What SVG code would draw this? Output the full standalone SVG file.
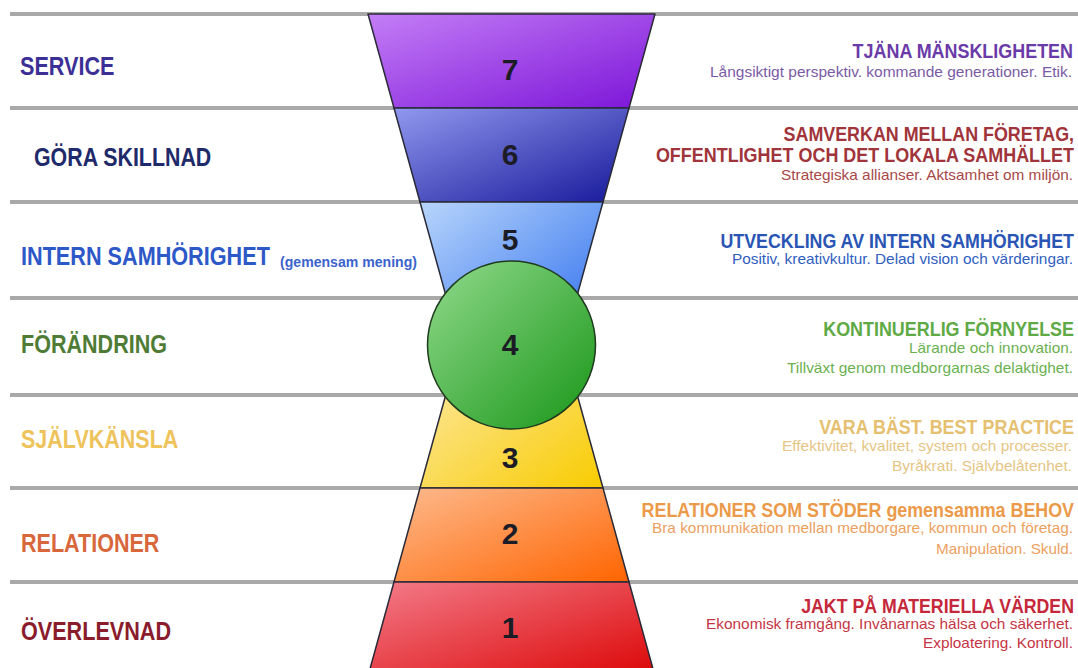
<svg xmlns="http://www.w3.org/2000/svg" width="1078" height="668" viewBox="0 0 1078 668">
<style>
.sep{stroke:#a9a9a9;stroke-width:4;fill:none}
.band{stroke:#2a2a38;stroke-width:1.5;stroke-linejoin:round}
.num{font-family:"Liberation Sans",Arial,sans-serif;font-weight:bold;font-size:30px;fill:#1c1c26;text-anchor:middle}
.lbl{font-family:"Liberation Sans",Arial,sans-serif;font-weight:bold;font-size:25px}
.hd{font-family:"Liberation Sans",Arial,sans-serif;font-weight:bold;font-size:19.5px;text-anchor:end}
.sm{font-family:"Liberation Sans",Arial,sans-serif;font-size:14.8px;text-anchor:end}
</style>
<defs>
<linearGradient id="g7" x1="0" y1="0" x2="1" y2="1"><stop offset="0" stop-color="#c47ef6"/><stop offset="1" stop-color="#7c14d8"/></linearGradient>
<linearGradient id="g6" x1="0" y1="0" x2="1" y2="1"><stop offset="0" stop-color="#9098ee"/><stop offset="1" stop-color="#16189a"/></linearGradient>
<linearGradient id="g5" x1="0" y1="0" x2="1" y2="1"><stop offset="0" stop-color="#b8d5fb"/><stop offset="1" stop-color="#2a6cee"/></linearGradient>
<linearGradient id="g4" x1="0" y1="0" x2="1" y2="1"><stop offset="0" stop-color="#92da8c"/><stop offset="1" stop-color="#189618"/></linearGradient>
<linearGradient id="g3" x1="0" y1="0" x2="1" y2="1"><stop offset="0" stop-color="#fdeab0"/><stop offset="1" stop-color="#f8cc00"/></linearGradient>
<linearGradient id="g2" x1="0" y1="0" x2="1" y2="1"><stop offset="0" stop-color="#fdba8e"/><stop offset="1" stop-color="#ff6400"/></linearGradient>
<linearGradient id="g1" x1="0" y1="0" x2="1" y2="1"><stop offset="0" stop-color="#f37c8a"/><stop offset="1" stop-color="#dc0606"/></linearGradient>
</defs>
<rect width="1078" height="668" fill="#ffffff"/>
<g id="connectors">
<line class="sep" x1="10" y1="14" x2="1078" y2="14"/>
<line class="sep" x1="10" y1="108" x2="1078" y2="108"/>
<line class="sep" x1="10" y1="202" x2="1078" y2="202"/>
<line class="sep" x1="10" y1="298" x2="1078" y2="298"/>
<line class="sep" x1="10" y1="395" x2="1078" y2="395"/>
<line class="sep" x1="10" y1="488" x2="1078" y2="488"/>
<line class="sep" x1="10" y1="582" x2="1078" y2="582"/>
</g>
<g id="level-7">
<polygon class="band" fill="url(#g7)" points="368,14 655,14 629,108 394,108"/>
<text class="num" x="510" y="80">7</text>
<text class="lbl" transform="translate(20,75) scale(0.865,1)" fill="#3c3096">SERVICE</text>
<text class="hd" transform="translate(1073,58) scale(0.92,1)" fill="#6a3aa8">TJÄNA MÄNSKLIGHETEN</text>
<text class="sm" x="1072" y="77" fill="#7b5aa6" textLength="362" lengthAdjust="spacingAndGlyphs">Långsiktigt perspektiv. kommande generationer. Etik.</text>
</g>
<g id="level-6">
<polygon class="band" fill="url(#g6)" points="394,108 629,108 603,202 420,202"/>
<text class="num" x="510" y="165">6</text>
<text class="lbl" transform="translate(34,166) scale(0.855,1)" fill="#1e2a6a">GÖRA SKILLNAD</text>
<text class="hd" transform="translate(1074,141) scale(0.917,1)" fill="#a0343a">SAMVERKAN MELLAN FÖRETAG,</text>
<text class="hd" transform="translate(1074,162) scale(0.921,1)" fill="#a0343a">OFFENTLIGHET OCH DET LOKALA SAMHÄLLET</text>
<text class="sm" x="1073" y="180" fill="#a84848" textLength="292" lengthAdjust="spacingAndGlyphs">Strategiska allianser. Aktsamhet om miljön.</text>
</g>
<g id="level-5">
<polygon class="band" fill="url(#g5)" points="420,202 603,202 563.4,345 459.6,345"/>
<text class="num" x="510" y="250">5</text>
<text class="lbl" transform="translate(21,265) scale(0.866,1)" fill="#2d58c8">INTERN SAMHÖRIGHET</text>
<text transform="translate(280,267) scale(0.94,1)" fill="#3b63cc" font-family="Liberation Sans, Arial, sans-serif" font-weight="bold" font-size="15">(gemensam mening)</text>
<text class="hd" transform="translate(1074,248) scale(0.915,1)" fill="#2a55b5">UTVECKLING AV INTERN SAMHÖRIGHET</text>
<text class="sm" x="1073" y="264" fill="#3060c0" textLength="341" lengthAdjust="spacingAndGlyphs">Positiv, kreativkultur. Delad vision och värderingar.</text>
</g>
<g id="level-3">
<polygon class="band" fill="url(#g3)" points="459.6,345 563.4,345 603,488 420,488"/>
<text class="num" x="510" y="468">3</text>
<text class="lbl" transform="translate(21,448) scale(0.861,1)" fill="#eec35c">SJÄLVKÄNSLA</text>
<text class="hd" transform="translate(1074,434) scale(0.919,1)" fill="#e5c070">VARA BÄST. BEST PRACTICE</text>
<text class="sm" x="1072" y="451" fill="#e5c585" textLength="290" lengthAdjust="spacingAndGlyphs">Effektivitet, kvalitet, system och processer.</text>
<text class="sm" x="1072" y="471" fill="#e5c585" textLength="180" lengthAdjust="spacingAndGlyphs">Byråkrati. Självbelåtenhet.</text>
</g>
<g id="level-4">
<circle cx="511.5" cy="345" r="84" fill="url(#g4)" stroke="#1f3a1f" stroke-width="1.5"/>
<text class="num" x="510" y="355">4</text>
<text class="lbl" transform="translate(21,353) scale(0.862,1)" fill="#4e7c35">FÖRÄNDRING</text>
<text class="hd" transform="translate(1074,336) scale(0.919,1)" fill="#5faa45">KONTINUERLIG FÖRNYELSE</text>
<text class="sm" x="1073" y="353" fill="#6ab050" textLength="164" lengthAdjust="spacingAndGlyphs">Lärande och innovation.</text>
<text class="sm" x="1073" y="373" fill="#6ab050" textLength="286" lengthAdjust="spacingAndGlyphs">Tillväxt genom medborgarnas delaktighet.</text>
</g>
<g id="level-2">
<polygon class="band" fill="url(#g2)" points="420,488 603,488 629,582 394,582"/>
<text class="num" x="510" y="544">2</text>
<text class="lbl" transform="translate(21,552) scale(0.862,1)" fill="#d8673c">RELATIONER</text>
<text class="hd" transform="translate(1074,517) scale(0.917,1)" fill="#eb9a4a">RELATIONER SOM STÖDER gemensamma BEHOV</text>
<text class="sm" x="1073" y="533" fill="#eba060" textLength="421" lengthAdjust="spacingAndGlyphs">Bra kommunikation mellan medborgare, kommun och företag.</text>
<text class="sm" x="1073" y="554" fill="#eba060" textLength="137" lengthAdjust="spacingAndGlyphs">Manipulation. Skuld.</text>
</g>
<g id="level-1">
<polygon class="band" fill="url(#g1)" points="394,582 629,582 655,676 368,676"/>
<text class="num" x="510" y="638">1</text>
<text class="lbl" transform="translate(21,640) scale(0.864,1)" fill="#8a1c2c">ÖVERLEVNAD</text>
<text class="hd" transform="translate(1074,613) scale(0.91,1)" fill="#c5283a">JAKT PÅ MATERIELLA VÄRDEN</text>
<text class="sm" x="1073" y="629" fill="#c53545" textLength="367" lengthAdjust="spacingAndGlyphs">Ekonomisk framgång. Invånarnas hälsa och säkerhet.</text>
<text class="sm" x="1073" y="648" fill="#c53545" textLength="150" lengthAdjust="spacingAndGlyphs">Exploatering. Kontroll.</text>
</g>
</svg>
